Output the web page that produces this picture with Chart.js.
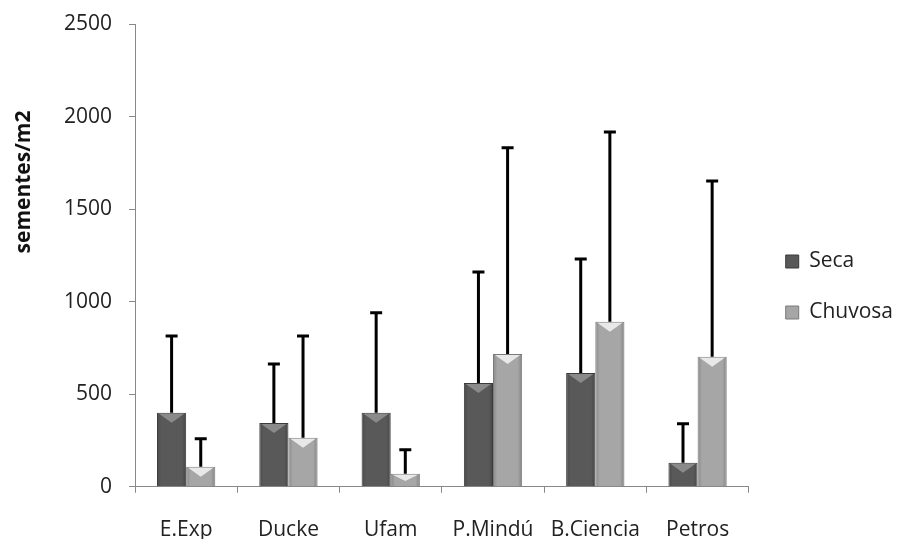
<!DOCTYPE html>
<html>
<head>
<meta charset="utf-8">
<script src="https://cdn.jsdelivr.net/npm/chart.js@4"></script>
<style>
  html, body { margin: 0; padding: 0; background: #fff; overflow: hidden; }
  #wrap { width: 905px; height: 539px; position: relative; }
</style>
</head>
<body>
<div id="wrap"><canvas id="seedChart"></canvas></div>
<script>
const sites = ['E.Exp', 'Ducke', 'Ufam', 'P.Mindú', 'B.Ciencia', 'Petros'];
const secaValues = [400, 345, 400, 561, 615, 130];
const secaSD = [415, 319, 540, 599, 616, 210];
const chuvosaValues = [108, 265, 70, 718, 891, 702];
const chuvosaSD = [152, 550, 130, 1113, 1026, 950];
const yTicks = [0, 500, 1000, 1500, 2000, 2500];
const yTitle = 'sementes/m2';

const fontFamily = '"Open Sans", Lato, sans-serif';

// bevel look on top of each bar (light chevron)
const barBevel = {
  id: 'barBevel',
  afterDatasetsDraw(chart) {
    const ctx = chart.ctx;
    chart.data.datasets.forEach((ds, di) => {
      const meta = chart.getDatasetMeta(di);
      meta.data.forEach(bar => {
        const w = bar.width, l = bar.x - w / 2, r = bar.x + w / 2;
        const h = Math.min(9, (bar.base - bar.y) / 2);
        ctx.save();
        const g = ctx.createLinearGradient(l, 0, r, 0);
        g.addColorStop(0, 'rgba(0,0,0,0.18)');
        g.addColorStop(0.15, 'rgba(0,0,0,0)');
        g.addColorStop(0.85, 'rgba(0,0,0,0)');
        g.addColorStop(1, 'rgba(0,0,0,0.22)');
        ctx.fillStyle = g;
        ctx.fillRect(l + 1, bar.y + 1, w - 2, bar.base - bar.y - 1);
        ctx.fillStyle = ds.bevel;
        ctx.beginPath();
        ctx.moveTo(l + 2, bar.y + 1);
        ctx.lineTo(r - 2, bar.y + 1);
        ctx.lineTo(bar.x, bar.y + 1 + h);
        ctx.closePath();
        ctx.fill();
        ctx.restore();
      });
    });
  }
};

// error bars upward only, from top of each bar
const errorBars = {
  id: 'errorBars',
  afterDatasetsDraw(chart) {
    const ctx = chart.ctx;
    const y = chart.scales.y;
    chart.data.datasets.forEach((ds, di) => {
      const meta = chart.getDatasetMeta(di);
      meta.data.forEach((bar, i) => {
        const top = y.getPixelForValue(ds.data[i] + ds.sd[i]);
        ctx.save();
        ctx.strokeStyle = '#000';
        ctx.lineWidth = 3;
        ctx.beginPath();
        ctx.moveTo(bar.x, bar.y);
        ctx.lineTo(bar.x, top);
        ctx.moveTo(bar.x - 6, top);
        ctx.lineTo(bar.x + 6, top);
        ctx.stroke();
        ctx.restore();
      });
    });
  }
};

// y title sits above the middle of the axis in the original, so draw it by hand
const sideTitle = {
  id: 'sideTitle',
  afterDraw(chart) {
    const ctx = chart.ctx;
    ctx.save();
    ctx.translate(24, 182);
    ctx.rotate(-Math.PI / 2);
    ctx.font = 'bold 21px ' + fontFamily;
    ctx.fillStyle = '#111';
    ctx.textAlign = 'center';
    ctx.textBaseline = 'middle';
    ctx.fillText(yTitle, 0, 0);
    ctx.restore();
  }
};

// nudge legend toward the right edge
const legendShift = {
  id: 'legendShift',
  afterLayout(chart) {
    chart.legend.left += 7;
    chart.legend.right += 7;
    chart.legend.top -= 9;
    chart.legend.bottom -= 9;
  }
};

new Chart(document.getElementById('seedChart'), {
  type: 'bar',
  data: {
    labels: sites,
    datasets: [{
      label: 'Seca',
      data: secaValues,
      sd: secaSD,
      bevel: 'rgba(150,150,150,0.8)',
      backgroundColor: '#595959',
      borderColor: '#3a3a3a',
      borderWidth: 1
    }, {
      label: 'Chuvosa',
      data: chuvosaValues,
      sd: chuvosaSD,
      bevel: 'rgba(240,240,240,0.9)',
      backgroundColor: '#a6a6a6',
      borderColor: '#7a7a7a',
      borderWidth: 1
    }]
  },
  options: {
    responsive: true,
    maintainAspectRatio: false,
    animation: false,
    categoryPercentage: 0.57,
    barPercentage: 1,
    layout: { padding: { top: 24, right: 9, left: 47, bottom: -29 } },
    plugins: {
      tooltip: { enabled: false },
      legend: {
        position: 'right',
        labels: {
          font: { family: fontFamily, size: 21 },
          color: '#222',
          boxWidth: 13,
          boxHeight: 13,
          padding: 30
        }
      }
    },
    scales: {
      x: {
        grid: { offset: true, drawOnChartArea: false, tickLength: 6, color: '#888' },
        border: { color: '#888' },
        ticks: {
          font: { family: fontFamily, size: 21 },
          color: '#222',
          autoSkip: false,
          maxRotation: 0,
          padding: 25
        }
      },
      y: {
        min: 0,
        max: 2500,
        afterBuildTicks(axis) { axis.ticks = yTicks.map(v => ({ value: v })); },
        grid: { drawOnChartArea: false, tickLength: 6, color: '#888' },
        border: { color: '#888' },
        ticks: {
          font: { family: fontFamily, size: 21, lineHeight: 0.6 },
          color: '#222',
          padding: 17,
          callback: v => String(v)
        }
      }
    }
  },
  plugins: [barBevel, errorBars, sideTitle, legendShift]
});
</script>
</body>
</html>
